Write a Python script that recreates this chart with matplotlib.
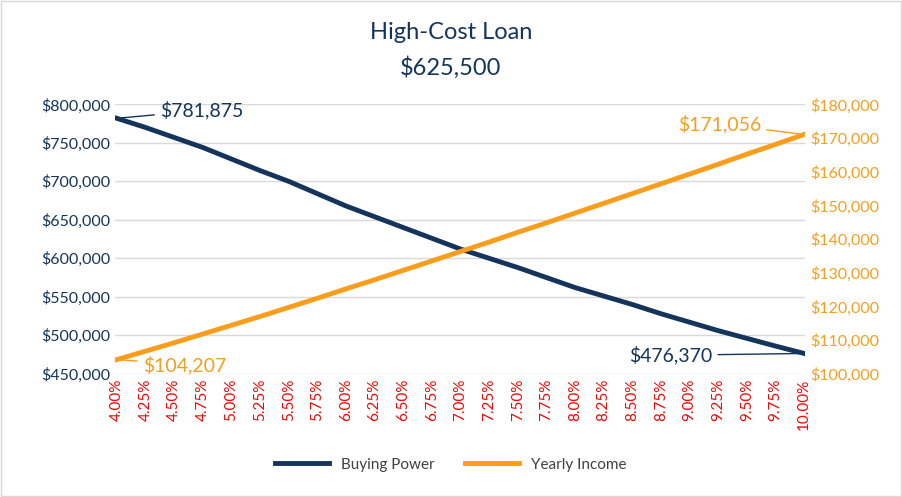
import matplotlib.pyplot as plt
import matplotlib.ticker as mticker

plt.rcParams["font.family"] = "Lato"

NAVY = "#14345b"
ORANGE = "#f99d1c"

rates = [4.00 + 0.25 * i for i in range(25)]
tick_labels = [f"{r:.2f}%" for r in rates]
buying_power = [781875, 770000, 757000, 744000, 729000, 714000, 700000, 684000,
                668000, 654000, 640000, 626000, 612000, 600000, 588000, 575000,
                562000, 551000, 540000, 528000, 517000, 506000, 496000, 486000, 476370]
yearly_income = [104207, 106700, 109200, 111800, 114400, 117000, 119700, 122400,
                 125200, 127900, 130700, 133500, 136300, 139100, 142000, 144800,
                 147700, 150600, 153500, 156400, 159300, 162200, 165200, 168100, 171056]

fig = plt.figure(figsize=(9.02, 4.97), dpi=100)
ax = fig.add_axes([0.128, 0.248, 0.765, 0.542])
ax2 = ax.twinx()

x = list(range(len(rates)))
ax.plot(x, buying_power, color=NAVY, lw=3.5, label="Buying Power", zorder=3)
ax2.plot(x, yearly_income, color=ORANGE, lw=3.5, label="Yearly Income", zorder=3)

ax.set_ylim(450000, 800000)
ax2.set_ylim(100000, 180000)
ax.set_yticks(range(450000, 800001, 50000))
ax2.set_yticks(range(100000, 180001, 10000))
fmt = mticker.FuncFormatter(lambda v, p: f"${v:,.0f}")
ax.yaxis.set_major_formatter(fmt)
ax2.yaxis.set_major_formatter(fmt)
ax.set_xlim(-0.05, len(x) - 0.95)
ax.set_xticks(x)
ax.set_xticklabels(tick_labels, rotation=90, color="red", fontsize=11)
ax.tick_params(axis="y", colors=NAVY, labelsize=11.5, length=0)
ax2.tick_params(axis="y", colors=ORANGE, labelsize=11.5, length=0)
ax.tick_params(axis="x", length=0)
ax.grid(axis="y", color="#d9d9d9", lw=1)
ax.set_axisbelow(True)
for a in (ax, ax2):
    for s in a.spines.values():
        s.set_visible(False)

ax.annotate(f"${buying_power[0]:,}", xy=(x[0], buying_power[0]), xytext=(1.5, 792000),
            color=NAVY, fontsize=14, va="center",
            arrowprops=dict(arrowstyle="-", color=NAVY, lw=1))
ax.annotate(f"${buying_power[-1]:,}", xy=(x[-1], buying_power[-1]), xytext=(20.8, 474000),
            color=NAVY, fontsize=14, va="center", ha="right",
            arrowprops=dict(arrowstyle="-", color=NAVY, lw=1))
ax2.annotate(f"${yearly_income[0]:,}", xy=(x[0], yearly_income[0]), xytext=(0.9, 102700),
             color=ORANGE, fontsize=14, va="center",
             arrowprops=dict(arrowstyle="-", color=ORANGE, lw=1))
ax2.annotate(f"${yearly_income[-1]:,}", xy=(x[-1], yearly_income[-1]), xytext=(22.5, 174200),
             color=ORANGE, fontsize=14, va="center", ha="right",
             arrowprops=dict(arrowstyle="-", color=ORANGE, lw=1))

fig.text(0.5, 0.935, "High-Cost Loan", ha="center", va="center", fontsize=17, color=NAVY)
fig.text(0.5, 0.865, "$625,500", ha="center", va="center", fontsize=17, color=NAVY)

h1, l1 = ax.get_legend_handles_labels()
h2, l2 = ax2.get_legend_handles_labels()
fig.legend(h1 + h2, l1 + l2, loc="center", bbox_to_anchor=(0.5, 0.065), ncol=2,
           frameon=False, fontsize=11, labelcolor="#404040", handlelength=3.5)

fig.patches.append(plt.Rectangle((0.001, 0.002), 0.998, 0.996, transform=fig.transFigure,
                                 fill=False, edgecolor="#d9d9d9", lw=1))
fig.savefig("out.png", dpi=100)
